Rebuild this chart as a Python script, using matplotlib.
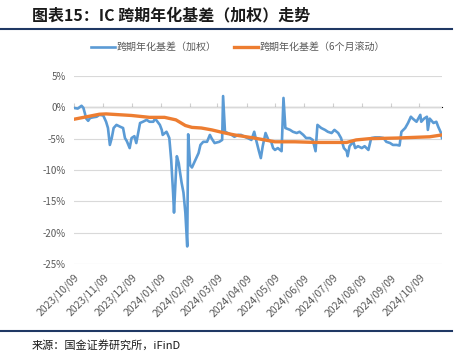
import numpy as np
import matplotlib
matplotlib.use("Agg")
import matplotlib.pyplot as plt
import matplotlib.dates as mdates

plt.rcParams['font.family'] = ['Noto Sans CJK SC', 'DejaVu Sans']

# 跨期年化基差（加权），单位 %
dates_w = ["2023-10-09", "2023-10-13", "2023-10-17", "2023-10-19", "2023-10-22", "2023-10-24",
           "2023-10-26", "2023-10-29", "2023-11-02", "2023-11-05", "2023-11-09", "2023-11-12",
           "2023-11-14", "2023-11-16", "2023-11-18", "2023-11-20", "2023-11-23", "2023-11-27",
           "2023-11-30", "2023-12-02", "2023-12-04", "2023-12-07", "2023-12-09", "2023-12-12",
           "2023-12-14", "2023-12-18", "2023-12-21", "2023-12-25", "2023-12-28", "2024-01-01",
           "2024-01-03", "2024-01-08", "2024-01-10", "2024-01-11", "2024-01-15", "2024-01-16",
           "2024-01-18", "2024-01-20", "2024-01-22", "2024-01-23", "2024-01-25", "2024-01-26",
           "2024-01-28", "2024-01-29", "2024-01-31", "2024-02-02", "2024-02-04", "2024-02-06",
           "2024-02-07", "2024-02-09", "2024-02-11", "2024-02-18", "2024-02-20", "2024-02-23",
           "2024-02-27", "2024-03-01", "2024-03-03", "2024-03-06", "2024-03-11", "2024-03-14",
           "2024-03-15", "2024-03-17", "2024-03-20", "2024-03-24", "2024-03-27", "2024-03-31",
           "2024-04-03", "2024-04-07", "2024-04-10", "2024-04-14", "2024-04-17", "2024-04-19",
           "2024-04-22", "2024-04-24", "2024-04-26", "2024-04-29", "2024-05-02", "2024-05-05",
           "2024-05-07", "2024-05-09", "2024-05-12", "2024-05-16", "2024-05-18", "2024-05-20",
           "2024-05-25", "2024-05-28", "2024-06-01", "2024-06-04", "2024-06-08", "2024-06-11",
           "2024-06-15", "2024-06-18", "2024-06-21", "2024-06-23", "2024-06-27", "2024-07-01",
           "2024-07-04", "2024-07-08", "2024-07-11", "2024-07-15", "2024-07-18", "2024-07-21",
           "2024-07-24", "2024-07-25", "2024-07-27", "2024-07-31", "2024-08-02", "2024-08-05",
           "2024-08-09", "2024-08-12", "2024-08-16", "2024-08-19", "2024-08-23", "2024-08-28",
           "2024-09-01", "2024-09-04", "2024-09-08", "2024-09-11", "2024-09-15", "2024-09-18",
           "2024-09-20", "2024-09-24", "2024-09-27", "2024-09-30", "2024-10-02", "2024-10-06",
           "2024-10-10", "2024-10-11", "2024-10-14", "2024-10-17", "2024-10-18", "2024-10-20",
           "2024-10-24", "2024-10-27", "2024-10-29", "2024-11-01", "2024-11-02"]
basis_w = [-0.1, -0.2, 0.25, -0.1, -1.8, -2.15,
           -1.7, -1.6, -1.5, -1.2, -1.3, -2.3,
           -3.3, -6.0, -4.9, -3.3, -2.8, -3.1,
           -3.3, -4.9, -5.4, -6.5, -4.9, -4.6,
           -5.7, -2.5, -2.3, -2.0, -2.3, -2.3,
           -1.8, -2.8, -3.6, -4.4, -3.9, -4.2,
           -4.9, -8.4, -13.6, -16.8, -10.5, -7.8,
           -8.9, -10.0, -12.0, -13.6, -16.8, -22.2,
           -4.3, -9.2, -9.6, -7.3, -6.0, -5.5,
           -5.5, -4.4, -5.0, -5.7, -5.5, -5.2,
           1.8, -3.9, -4.1, -4.4, -4.7, -4.4,
           -4.4, -4.7, -4.9, -5.2, -3.9, -5.2,
           -7.0, -8.1, -6.2, -4.1, -5.2, -5.5,
           -6.5, -6.8, -6.5, -7.0, 1.5, -3.3,
           -3.6, -3.9, -4.1, -3.9, -4.4, -4.9,
           -4.9, -5.2, -7.0, -2.8, -3.3, -3.6,
           -3.9, -4.1, -3.6, -4.1, -4.9, -6.5,
           -7.0, -7.8, -6.2, -5.5, -6.5, -6.2,
           -6.5, -6.2, -6.8, -4.9, -4.8, -4.8,
           -4.9, -5.5, -5.7, -6.0, -6.0, -6.1,
           -3.9, -3.3, -2.5, -1.5, -1.8, -2.3,
           -1.2, -2.3, -1.8, -1.5, -3.6, -1.8,
           -2.5, -2.3, -3.1, -4.1, -4.9]

# 跨期年化基差（6个月滚动），单位 %
dates_r = ["2023-10-09", "2023-11-05", "2023-11-12", "2023-12-09", "2023-12-28", "2024-01-13",
           "2024-01-25", "2024-02-04", "2024-02-11", "2024-02-21", "2024-03-03", "2024-03-17",
           "2024-03-27", "2024-04-17", "2024-05-09", "2024-05-30", "2024-06-21", "2024-07-24",
           "2024-08-03", "2024-08-17", "2024-09-15", "2024-10-20", "2024-11-02"]
basis_r = [-1.9, -1.1, -1.05, -1.3, -1.6, -1.6,
           -2.0, -2.9, -3.2, -3.3, -3.6, -4.1,
           -4.4, -4.9, -5.5, -5.5, -5.6, -5.6,
           -5.2, -5.0, -4.9, -4.7, -4.4]

tick_dates = ["2023-10-09", "2023-11-09", "2023-12-09", "2024-01-09", "2024-02-09", "2024-03-09",
              "2024-04-09", "2024-05-09", "2024-06-09", "2024-07-09", "2024-08-09", "2024-09-09",
              "2024-10-09"]

xw = np.array(dates_w, dtype="datetime64[D]")
xr = np.array(dates_r, dtype="datetime64[D]")
xt = np.array(tick_dates, dtype="datetime64[D]")

fig = plt.figure(figsize=(4.65, 3.64), dpi=100)
ax = fig.add_axes([74 / 465, 1 - 264 / 364, 368 / 465, 188 / 364])

ax.plot(xw, basis_w, color="#5b9bd5", lw=1.9, label="跨期年化基差（加权）", zorder=3)
ax.plot(xr, basis_r, color="#ed7d31", lw=2.4, label="跨期年化基差（6个月滚动）", zorder=4)

ymin, ymax = -25, 5
ax.set_ylim(ymin, ymax)
ax.set_xlim(np.datetime64("2023-10-09"), np.datetime64("2024-11-02"))
ax.set_yticks(np.arange(-25, 6, 5))
ax.set_yticklabels([f"{v}%" for v in range(-25, 6, 5)])
ax.grid(axis="y", color="#d9d9d9", lw=0.8)
ax.set_axisbelow(True)
for s in ax.spines.values():
    s.set_visible(False)
ax.tick_params(axis="y", length=0, labelsize=7, labelcolor="#595959", pad=6)

ax.set_xticks(xt)
ax.xaxis.set_major_formatter(mdates.DateFormatter("%Y/%m/%d"))
ax.tick_params(axis="x", length=0, labelsize=7.5, labelcolor="#595959", pad=6)
for lab in ax.get_xticklabels():
    lab.set_rotation(45)
    lab.set_ha("right")
    lab.set_rotation_mode("anchor")

# small tick marks on the zero line
sec = ax.secondary_xaxis((0 - ymin) / (ymax - ymin))
sec.set_xticks(xt)
sec.tick_params(axis="x", length=3, color="#d0d0d0", labelbottom=False, labeltop=False)
sec.spines["bottom"].set_color("#d9d9d9")
sec.spines["bottom"].set_linewidth(0.8)

fig.legend(loc="center", bbox_to_anchor=(238 / 465, 1 - 47 / 364), ncol=2, frameon=False,
           fontsize=7.2, handlelength=2.4, handletextpad=0.15, columnspacing=1.8,
           labelcolor="#595959")

fig.text(32 / 465, 1 - 15 / 364, "图表15：IC 跨期年化基差（加权）走势", fontsize=11.5,
         fontweight="bold", fontstyle="italic", va="center", ha="left", color="#1a1a1a")
fig.add_artist(plt.Line2D([0, 452 / 465], [1 - 29 / 364] * 2, color="#1f3864", lw=1.5))
fig.add_artist(plt.Line2D([0, 452 / 465], [1 - 331 / 364] * 2, color="#1f3864", lw=1.5))
fig.text(32 / 465, 1 - 345 / 364, "来源：国金证券研究所，iFinD", fontsize=8,
         va="center", ha="left", color="#1a1a1a")

fig.savefig("out.png", dpi=100)
